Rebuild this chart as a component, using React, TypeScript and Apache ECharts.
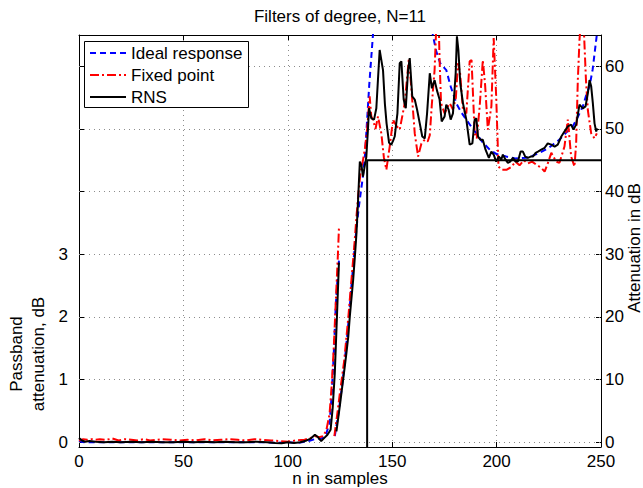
import React, { useEffect, useRef } from "react";
import * as echarts from "echarts";

const FONT = "'Liberation Sans', Arial, Helvetica, sans-serif";

const titleText = "Filters of degree, N=11";
const xName = "n in samples";
const leftName1 = "Passband";
const leftName2 = "attenuation, dB";
const rightName = "Attenuation in dB";
const legendNames = ["Ideal response", "Fixed point", "RNS"];

const leftTickLabels = [0, 1, 2, 3];
const leftTickMarks = [0, 1, 2, 3, 4, 5, 6];
const rightTickLabels = [0, 10, 20, 30, 40, 50, 60];

// Passband (left axis, dB)
const pbIdealN = [0, 1, 3, 10, 20, 30, 40, 50, 60, 70, 80, 90, 95, 100, 105, 110, 113, 116, 118, 120, 121, 122, 123, 124, 124.5];
const pbIdeal = [0.03, 0.01, 0, 0, 0, 0, 0, 0, 0, 0, 0, 0, -0.01, 0, -0.01, 0.02, 0.05, 0.06, 0.1, 0.3, 0.75, 1.4, 2.2, 2.7, 2.9];

const pbFixN = [0, 2, 4, 6, 8, 10, 13, 16, 19, 22, 25, 28, 31, 34, 37, 40, 44, 48, 52, 56, 60, 64, 68, 72, 76, 80, 84, 88, 92, 96, 100, 104, 108, 111, 113, 115, 117, 118.5, 120, 121, 122, 123, 124, 124.5];
const pbFix = [0.03, 0.05, 0.04, 0.05, 0.04, 0.05, 0.04, 0.06, 0.03, 0.05, 0.04, 0.03, 0.05, 0.03, 0.04, 0.05, 0.04, 0.03, 0.04, 0.03, 0.05, 0.03, 0.04, 0.05, 0.04, 0.03, 0.05, 0.04, 0.03, 0.02, 0.01, 0.03, 0.04, 0.07, 0.1, 0.08, 0.1, 0.2, 0.45, 0.9, 1.5, 2.25, 3.0, 3.42];

const pbRnsN = [0, 1, 2, 3, 5, 8, 12, 16, 20, 25, 30, 35, 40, 45, 50, 55, 60, 65, 70, 75, 80, 85, 90, 94, 97, 100, 103, 106, 109, 111, 113, 114.5, 116, 117.5, 119, 120.5, 121.5, 122.5, 123.6, 124.5];
const pbRns = [0.07, 0.04, 0.02, 0.01, 0.02, 0.01, 0.0, 0.01, 0.0, 0.01, 0.0, 0.01, 0.0, 0.0, 0.01, 0.0, 0.01, 0.0, 0.01, 0.0, 0.0, 0.01, 0.0, -0.01, -0.015, 0.0, -0.01, 0.0, 0.03, 0.06, 0.12, 0.08, 0.02, 0.07, 0.12, 0.2, 0.55, 1.1, 2.06, 2.87];

// Stopband (right axis, dB)
const sbIdealN = [122.5, 124, 125, 126, 127, 128, 129, 130, 131, 132, 133, 134, 135, 136, 137, 138, 139, 140, 141, 142, 145, 150, 155, 160, 165, 168, 169.5, 171, 173, 175.9, 178, 180.7, 183, 185.5, 188, 190.3, 193, 196.7, 200, 204.6, 209, 214.2, 217, 220.6, 225, 230.1, 233, 236.5, 239, 241.3, 243, 244.5, 246, 247.7, 249];
const sbIdeal = [1, 4, 6.5, 9, 12, 15.5, 19, 23, 27, 31, 34.5, 37.5, 40, 42.5, 46, 51.5, 57, 61.5, 66, 72, 85, 95, 92, 85, 75, 68, 65, 62.5, 60.5, 59.4, 56.8, 54.1, 52.7, 51.5, 50.3, 49.3, 48, 46.7, 46, 45.6, 45.3, 45.4, 45.7, 46.2, 47, 48.3, 49.3, 50.4, 52, 53.6, 55.5, 56.8, 59.5, 64.2, 68];

const sbFixN = [122.3, 123.5, 125, 126, 127, 128, 129, 130, 131, 132, 133, 134, 135, 136, 137, 138, 139.2, 140, 140.8, 142, 143.2, 144.8, 146, 147.2, 148.8, 150.4, 152, 153.6, 156, 158, 159.1, 160.8, 162.4, 164, 165.6, 167, 168, 169, 170.3, 171.3, 172.2, 172.7, 173.4, 175.1, 176.5, 177.6, 179.1, 180.5, 181.5, 182.5, 183.9, 185.5, 187.1, 188, 189.5, 190.5, 191.9, 193.4, 194.5, 195.8, 197.5, 198.6, 199.8, 200.9, 202.5, 204.9, 207.3, 209, 211, 213, 215, 217, 219, 221.4, 223, 224.5, 226.2, 228.5, 230.1, 232.5, 234.1, 235.7, 237.3, 238.1, 238.9, 239.7, 240.5, 241.5, 242, 242.8, 243.7, 245.3, 246.9, 248];
const sbFix = [1, 4, 8, 10.5, 13, 16.5, 20, 24, 28, 32, 36.5, 40.5, 43.5, 45, 47, 50, 55.2, 52, 51.5, 50, 52, 49.3, 45.5, 43.5, 47.2, 51.5, 50.5, 49.9, 54.1, 61.3, 56.8, 49.3, 45.6, 47.7, 48.3, 48, 49, 54, 59.4, 68, 68, 61, 54.1, 52.5, 53.5, 54.1, 53.1, 55, 60.5, 59, 53, 52.5, 60.8, 61, 49.3, 48.5, 53.6, 61, 57, 49.9, 53.6, 64.5, 55.2, 44, 43.5, 43.5, 44, 44.8, 44.2, 45, 44.5, 44.8, 44.3, 43.8, 43.2, 44.5, 46.2, 44.8, 44.6, 47.2, 51.5, 45.6, 44, 47.7, 57.8, 64.2, 68, 68, 64.2, 57.8, 53, 49.3, 48.5, 49.3];

const sbRnsN = [123.3, 124.2, 125, 125.7, 127, 128.1, 129, 129.7, 130.5, 131.3, 132.1, 132.9, 133.5, 134.1, 134.5, 135.3, 136, 136.8, 137.6, 138.4, 138.9, 140, 141.3, 142.4, 143.2, 144, 144.8, 145.6, 146.5, 147.3, 148.5, 149.6, 150.5, 151.2, 152.5, 153.6, 154.4, 155.5, 156.5, 157.6, 158.4, 159.6, 160.8, 161.9, 163.2, 164.4, 165.6, 166.7, 168, 169, 170.3, 171.4, 172.7, 173.7, 175.1, 175.9, 177, 178, 179.1, 180.4, 181, 181.7, 182.6, 183.9, 185.5, 187.1, 188.4, 189.5, 190.3, 191.1, 192.2, 193.4, 194.7, 196.3, 197.5, 198.6, 199.8, 201.1, 202.2, 203, 204.3, 205.4, 206.5, 207.8, 209.1, 210.2, 211.5, 212.6, 213.7, 215, 216.3, 217.4, 218.7, 219.8, 221.4, 223, 224.5, 226.2, 227.8, 229.3, 231, 232.5, 234.1, 235.7, 236.8, 238.1, 238.9, 239.7, 241.3, 242.6, 243.7, 244.5, 245.3, 246.1, 246.9, 247.7, 248.2];
const sbRns = [1.75, 4, 6, 7.9, 11.3, 14.3, 17, 20.1, 23, 25.9, 29.5, 33.4, 37.5, 41.9, 44.8, 44.2, 42.4, 44, 45.5, 50, 53.3, 51.7, 51.5, 53.3, 58, 62.6, 61, 59.4, 54, 50.9, 47.8, 47.5, 48.2, 48.8, 52.5, 60.5, 60.8, 54.7, 53.3, 59.4, 61.3, 55.2, 54.7, 53.1, 50.9, 48.8, 48.5, 52.5, 58.9, 56.5, 57.8, 56.2, 54.7, 51.2, 52, 53.9, 53.1, 51.5, 52.5, 58.9, 64.8, 62.6, 57.3, 54.1, 51.5, 47.5, 47.7, 51.5, 51.7, 48.8, 48.3, 48.3, 46.7, 45.4, 46.4, 45.9, 44.8, 45.6, 45.1, 45.9, 45.1, 44.6, 44.8, 45.4, 44.8, 44.8, 46.4, 46.4, 45.6, 45.4, 45.6, 45.6, 46.2, 46.4, 46.7, 47, 47.7, 47.5, 47.2, 47.5, 48.8, 49.6, 50.4, 50.7, 49.9, 50.7, 52.3, 53.9, 53.3, 53.6, 55.7, 57.8, 56.8, 54.1, 50.9, 49.6, 50.1];

// Stopband specification mask (n, dB)
const maskN = [138, 138, 250];
const maskDb = [-0.75, 45, 45];

const zip = (xs: number[], ys: number[]) => xs.map((x, i) => [x, ys[i]]);

const BLUE = "#0000ff";
const RED = "#ff0000";
const BLACK = "#000000";
const BLUE_DASH = [6, 4];
const RED_DASH = [9, 3, 2, 3];

export default function App() {
  const ref = useRef<HTMLDivElement>(null);
  useEffect(() => {
    if (!ref.current) return;
    document.body.style.margin = "0";
    const chart = echarts.init(ref.current, null, { renderer: "svg" });
    const axisLineStyle = { color: BLACK, width: 1 };
    const labelStyle = { color: BLACK, fontSize: 17, fontFamily: FONT };
    const gridStyle = { color: "#8c8c8c", type: [1, 4], width: 1 };

    const lineSeries = (
      name: string,
      data: number[][],
      yIdx: number,
      color: string,
      dash: any,
      width: number,
      z: number
    ) => ({
      type: "line",
      name,
      data,
      xAxisIndex: 0,
      yAxisIndex: yIdx,
      showSymbol: false,
      symbol: "none",
      smooth: false,
      clip: true,
      silent: true,
      z,
      lineStyle: { color, width, type: dash },
    });

    const option: any = {
      animation: false,
      grid: { left: 79, right: 42, top: 35, bottom: 41, containLabel: false },
      xAxis: [
        {
          type: "value",
          min: 0,
          max: 250,
          interval: 50,
          position: "bottom",
          axisLine: { show: true, onZero: false, lineStyle: axisLineStyle },
          axisTick: { show: true, inside: true, length: 5, lineStyle: axisLineStyle },
          axisLabel: { show: true, margin: 6, ...labelStyle },
          splitLine: { show: true, showMinLine: false, showMaxLine: false, lineStyle: gridStyle },
        },
        {
          type: "value",
          min: 0,
          max: 250,
          interval: 50,
          position: "top",
          axisLine: { show: true, onZero: false, lineStyle: axisLineStyle },
          axisTick: { show: true, inside: true, length: 5, lineStyle: axisLineStyle },
          axisLabel: { show: false },
          splitLine: { show: false },
        },
      ],
      yAxis: [
        {
          type: "value",
          min: -0.075,
          max: 6.5,
          position: "left",
          axisLine: { show: true, onZero: false, lineStyle: axisLineStyle },
          axisTick: { show: true, inside: true, length: 5, customValues: leftTickMarks, lineStyle: axisLineStyle },
          axisLabel: { show: true, margin: 11, customValues: leftTickLabels, ...labelStyle },
          splitLine: { show: false },
        },
        {
          type: "value",
          min: -0.75,
          max: 65,
          position: "right",
          axisLine: { show: true, onZero: false, lineStyle: axisLineStyle },
          axisTick: { show: true, inside: true, length: 5, customValues: rightTickLabels, lineStyle: axisLineStyle },
          axisLabel: { show: true, margin: 4, customValues: rightTickLabels, ...labelStyle },
          splitLine: { show: false },
        },
      ],
      series: [
        {
          type: "line",
          name: "grid",
          data: [[-10, -10]],
          xAxisIndex: 0,
          yAxisIndex: 1,
          showSymbol: false,
          symbol: "none",
          silent: true,
          z: 1,
          lineStyle: { width: 0, opacity: 0 },
          markLine: {
            silent: true,
            z: 1,
            symbol: ["none", "none"],
            label: { show: false },
            lineStyle: gridStyle,
            data: rightTickLabels.map((v) => ({ yAxis: v })),
          },
        },
        lineSeries("Ideal response", zip(pbIdealN, pbIdeal), 0, BLUE, BLUE_DASH, 2, 3),
        lineSeries("Fixed point", zip(pbFixN, pbFix), 0, RED, RED_DASH, 2, 4),
        lineSeries("RNS", zip(pbRnsN, pbRns), 0, BLACK, "solid", 2, 5),
        lineSeries("Ideal response stop", zip(sbIdealN, sbIdeal), 1, BLUE, BLUE_DASH, 2, 3),
        lineSeries("Fixed point stop", zip(sbFixN, sbFix), 1, RED, RED_DASH, 2, 4),
        lineSeries("RNS stop", zip(sbRnsN, sbRns), 1, BLACK, "solid", 2, 5),
        lineSeries("Mask", zip(maskN, maskDb), 1, BLACK, "solid", 2, 6),
      ],
      graphic: [
        {
          type: "text",
          x: 340,
          y: 16,
          silent: true,
          style: { text: titleText, fontSize: 17, fontFamily: FONT, fill: BLACK, align: "center", verticalAlign: "middle" },
        },
        {
          type: "text",
          x: 340,
          y: 478,
          silent: true,
          style: { text: xName, fontSize: 17, fontFamily: FONT, fill: BLACK, align: "center", verticalAlign: "middle" },
        },
        {
          type: "text",
          x: 16,
          y: 354,
          rotation: Math.PI / 2,
          silent: true,
          style: { text: leftName1, fontSize: 17, fontFamily: FONT, fill: BLACK, align: "center", verticalAlign: "middle" },
        },
        {
          type: "text",
          x: 38,
          y: 354,
          rotation: Math.PI / 2,
          silent: true,
          style: { text: leftName2, fontSize: 17, fontFamily: FONT, fill: BLACK, align: "center", verticalAlign: "middle" },
        },
        {
          type: "text",
          x: 634,
          y: 248,
          rotation: Math.PI / 2,
          silent: true,
          style: { text: rightName, fontSize: 17, fontFamily: FONT, fill: BLACK, align: "center", verticalAlign: "middle" },
        },
        {
          type: "rect",
          z: 100,
          silent: true,
          shape: { x: 84.5, y: 41.5, width: 164, height: 66 },
          style: { fill: "#ffffff", stroke: BLACK, lineWidth: 1 },
        },
        {
          type: "line",
          z: 101,
          silent: true,
          shape: { x1: 90, y1: 53, x2: 126, y2: 53 },
          style: { stroke: BLUE, lineWidth: 2, lineDash: BLUE_DASH },
        },
        {
          type: "line",
          z: 101,
          silent: true,
          shape: { x1: 90, y1: 75, x2: 126, y2: 75 },
          style: { stroke: RED, lineWidth: 2, lineDash: RED_DASH },
        },
        {
          type: "line",
          z: 101,
          silent: true,
          shape: { x1: 90, y1: 97, x2: 126, y2: 97 },
          style: { stroke: BLACK, lineWidth: 2 },
        },
        ...legendNames.map((name, i) => ({
          type: "text",
          z: 101,
          x: 131,
          y: [53, 75, 97][i],
          silent: true,
          style: { text: name, fontSize: 17, fontFamily: FONT, fill: BLACK, align: "left", verticalAlign: "middle" },
        })),
      ],
    };
    chart.setOption(option);
    return () => chart.dispose();
  }, []);
  return <div ref={ref} style={{ width: 643, height: 488 }} />;
}
